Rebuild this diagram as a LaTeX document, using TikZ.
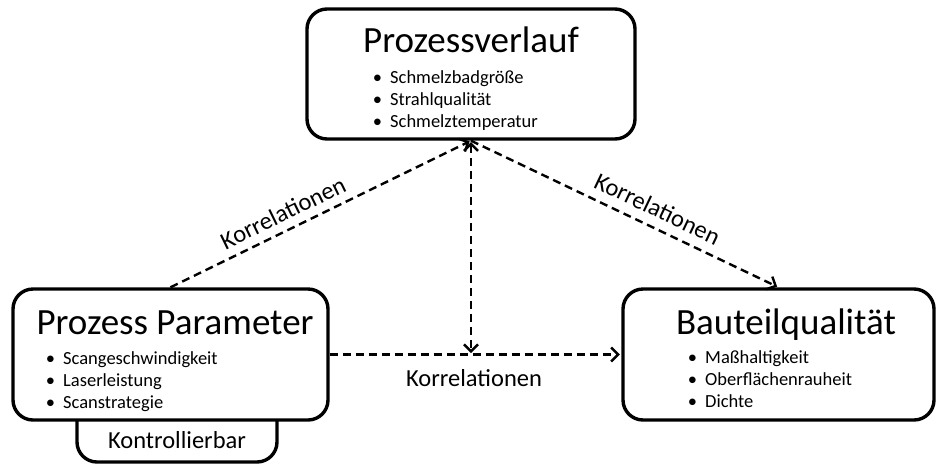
\documentclass[tikz,border=0pt]{standalone}
\usepackage{fontspec}
\setmainfont{Carlito}
\usetikzlibrary{arrows.meta}

\newcommand{\itm}{\llap{\textbullet\hspace{8pt}}}

\begin{document}
\begin{tikzpicture}[x=1pt,y=-1pt,>={Straight Barb[length=7pt,width=14pt]},
                    box node/.style={draw,line width=3.4pt,rounded corners=20pt,fill=white,inner sep=0pt},
                    title node/.style={font=\fontsize{37}{40}\selectfont,inner sep=0pt,anchor=base},
                    list node/.style={font=\fontsize{18.5}{22.3}\selectfont,inner sep=0pt,anchor=base west},
                    label node/.style={font=\fontsize{24.5}{26}\selectfont,inner sep=0pt},
                    link/.style={->,line width=2.4pt,dash pattern=on 8pt off 5pt,shorten >=1.5pt}]
\useasboundingbox (0,0) rectangle (936,464);

\node[box node,minimum width=200pt,minimum height=67pt] (ctrl) at (177,428.5) {};
\node[label node] (ctrltext) at (177,440) {Kontrollierbar};

\node[box node,minimum width=328pt,minimum height=130pt] (verlauf) at (471,74) {};
\node[box node,minimum width=315pt,minimum height=131pt] (param) at (170.5,354.5) {};
\node[box node,minimum width=311pt,minimum height=131pt] (quality) at (778.5,354.5) {};

\node[title node] (verlauftitle) at (471,52) {Prozessverlauf};
\node[title node] (paramtitle) at (175,334) {Prozess Parameter};
\node[title node] (qualitytitle) at (786,334) {Bauteilqualität};

\node[list node] (verlaufitems) at (390,83) {\begin{tabular}[t]{@{}l@{}}
  \itm Schmelzbadgröße\\ \itm Strahlqualität\\ \itm Schmelztemperatur\end{tabular}};
\node[list node] (paramitems) at (63,364) {\begin{tabular}[t]{@{}l@{}}
  \itm Scangeschwindigkeit\\ \itm Laserleistung\\ \itm Scanstrategie\end{tabular}};
\node[list node] (qualityitems) at (705,363) {\begin{tabular}[t]{@{}l@{}}
  \itm Maßhaltigkeit\\ \itm Oberflächenrauheit\\ \itm Dichte\end{tabular}};

\coordinate (mid) at (verlauf.south |- param.east);

\path[link]
(param.north) edge node[label node,sloped,above=8pt,pos=0.4] {Korrelationen} (verlauf.south)
(verlauf.south) edge node[label node,sloped,above=9pt,pos=0.58] {Korrelationen} (quality.north)
(param.east) edge node[label node,below=14pt,pos=0.495] {Korrelationen} (quality.west)
(verlauf.south) edge[<->,shorten <=1.5pt] (mid);
\end{tikzpicture}
\end{document}
